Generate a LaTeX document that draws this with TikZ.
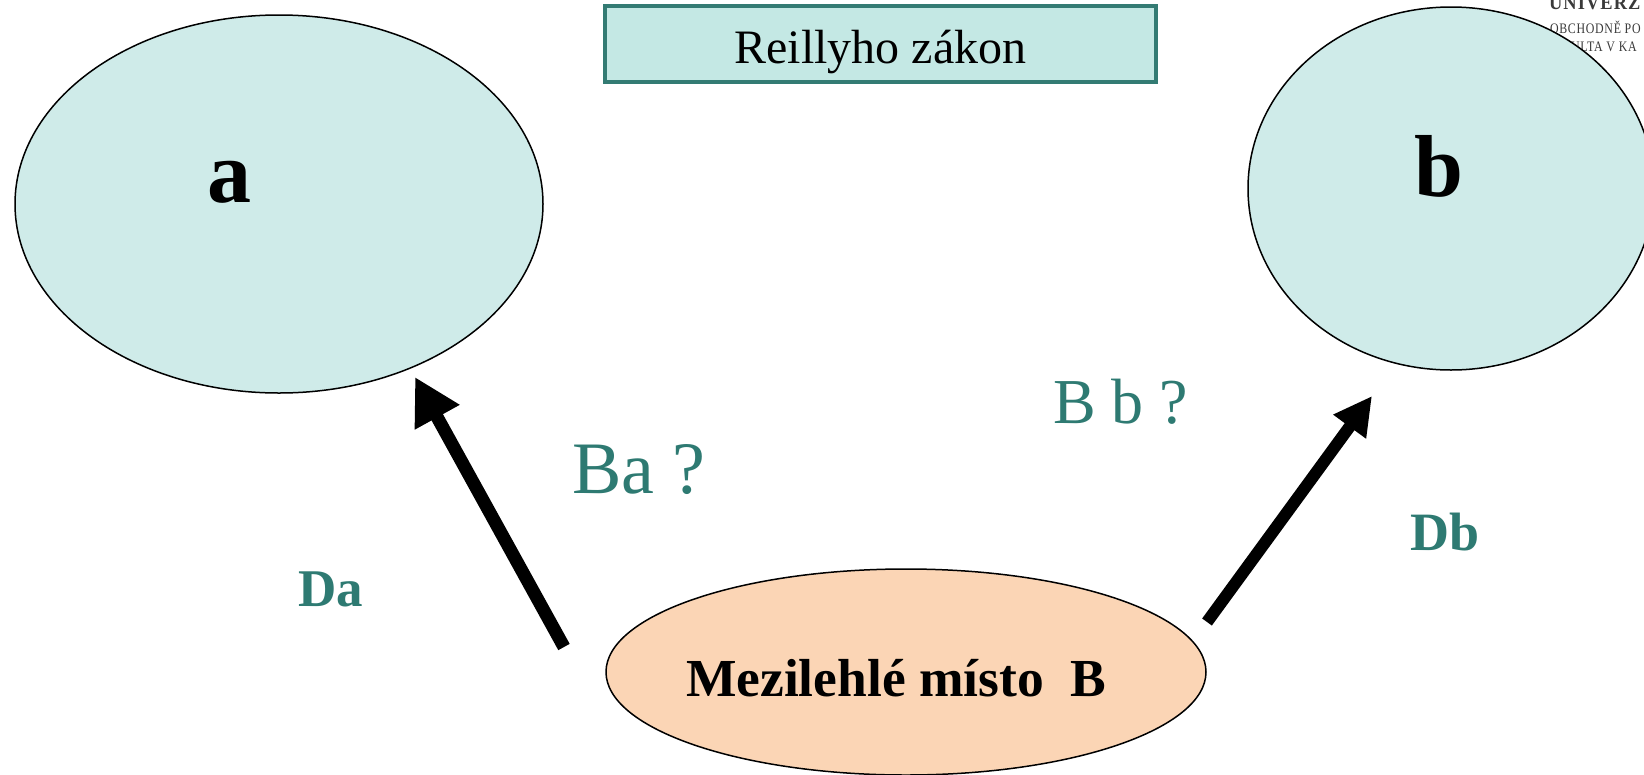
\documentclass[tikz,border=0pt]{standalone}
\usepackage{fontspec}
\setmainfont{Liberation Serif}
\newfontfamily\logofont[LetterSpace=6]{Liberation Serif}
\usetikzlibrary{shapes.geometric,arrows.meta}
\definecolor{tealtxt}{HTML}{2E7A72}
\definecolor{tealbord}{HTML}{337B73}
\definecolor{boxfill}{HTML}{C4E8E4}
\definecolor{cityfill}{HTML}{CFEBE9}
\definecolor{peach}{HTML}{FBD5B5}
\definecolor{logogray}{HTML}{3A3A3A}
\tikzset{
  city/.style={ellipse, draw=black, line width=1.5pt, fill=cityfill, inner sep=0pt, outer sep=0pt},
  midplace/.style={ellipse, draw=black, line width=1.5pt, fill=peach, inner sep=0pt, outer sep=0pt},
  titlebox/.style={rectangle, draw=tealbord, line width=4pt, fill=boxfill, inner sep=0pt, outer sep=0pt},
  lbl/.style={inner sep=0pt, outer sep=0pt, anchor=base west},
  bigarrow/.style={draw=black, line cap=butt},
}
\begin{document}
\begin{tikzpicture}[x=1pt,y=-1pt]
\useasboundingbox (0,0) rectangle (1644,774);
\fill[white] (0,0) rectangle (1644,774);
% logo text (partly covered by ellipse b)
\node[lbl, text=logogray] (logo1) at (1549,9) {\scalebox{0.92}[1]{\logofont\fontsize{20}{22}\selectfont\bfseries UNIVERZ}};
\node[lbl, text=logogray] (logo2) at (1550,33) {\scalebox{0.82}[1]{\logofont\fontsize{14.5}{16}\selectfont OBCHODNĚ PO}};
\node[lbl, text=logogray] (logo3) at (1571,51) {\scalebox{0.82}[1]{\logofont\fontsize{14.5}{16}\selectfont ULTA V KA}};
% ellipses
\node[city, minimum width=528pt, minimum height=378pt] (a) at (279,204) {};
\node[city, minimum width=406pt, minimum height=363pt] (b) at (1451,188.5) {};
\node[midplace, minimum width=600pt, minimum height=206pt] (B) at (906,672) {};
% title
\node[titlebox, minimum width=551pt, minimum height=76pt] (title) at (880.5,44) {};
\node[lbl, anchor=base] (titletext) at (880.5,63) {\fontsize{48}{50}\selectfont Reillyho zákon};
% labels
\node[lbl] (atext) at (207,202) {\fontsize{88}{90}\selectfont\bfseries a};
\node[lbl] (btext) at (1414,196) {\fontsize{88}{90}\selectfont\bfseries b};
\node[lbl] (Btext) at (686,696) {\fontsize{53.5}{56}\selectfont\bfseries Mezilehlé místo~~B};
\node[lbl, text=tealtxt] (Da) at (298,606) {\fontsize{53}{55}\selectfont\bfseries Da};
\node[lbl, text=tealtxt] (Db) at (1410,550) {\fontsize{54}{56}\selectfont\bfseries Db};
\node[lbl, text=tealtxt] (Ba) at (572,493) {\fontsize{74}{76}\selectfont Ba ?};
\node[lbl, text=tealtxt] (Bb) at (1053,423) {\fontsize{64}{66}\selectfont B b ?};
% arrows
\coordinate (tailA) at (564,647);
\coordinate (tipA) at (415,377);
\coordinate (tailB) at (1207,622);
\coordinate (tipB) at (1372,396);
\draw[bigarrow, line width=13pt, -{Triangle[length=46pt,width=48pt]}] (tailA) -- (tipA);
\draw[bigarrow, line width=12pt, -{Triangle[length=38pt,width=38pt]}] (tailB) -- (tipB);
\end{tikzpicture}
\end{document}
